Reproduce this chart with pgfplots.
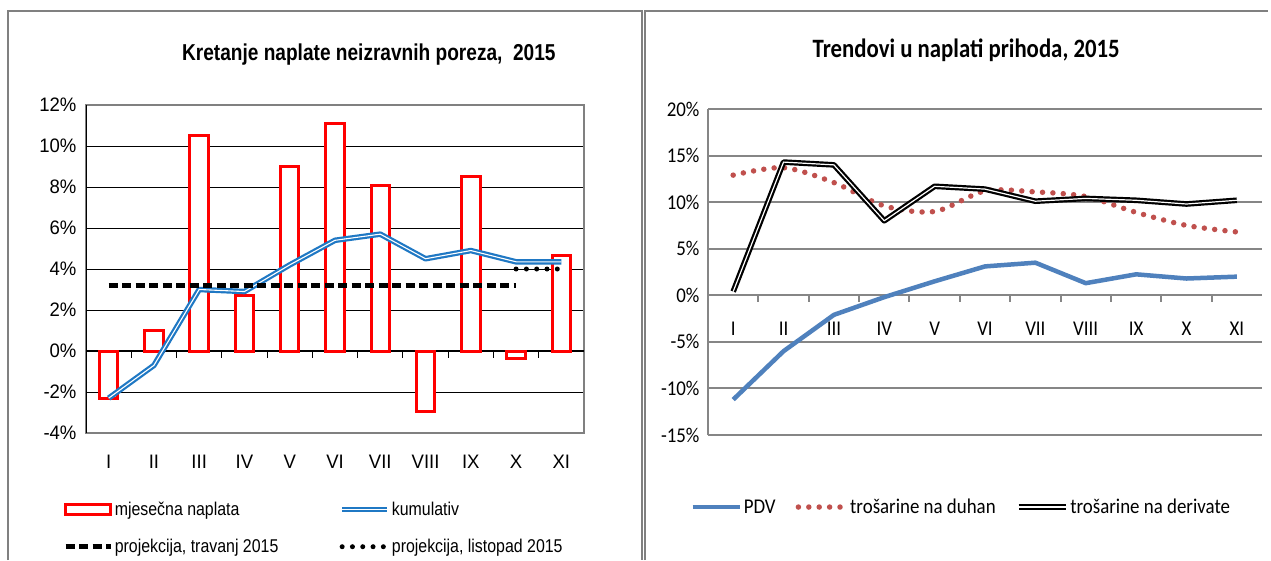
\documentclass[border=0pt]{standalone}
\usepackage{fontspec}
\setmainfont{Liberation Sans}
\newfontfamily\arialf[FakeStretch=0.95]{Liberation Sans}
\newfontfamily\arialleg[FakeStretch=0.86]{Liberation Sans}
\newfontfamily\arialtit[FakeStretch=0.83]{Liberation Sans}
\newfontfamily\calf[FakeStretch=0.9]{Carlito}
\newfontfamily\caltit[FakeStretch=0.86]{Carlito}
\usepackage{pgfplots}
\pgfplotsset{compat=1.18}
\definecolor{exred}{RGB}{255,0,0}
\definecolor{exblue}{RGB}{31,120,196}
\definecolor{pdvblue}{RGB}{79,129,189}
\definecolor{duhanred}{RGB}{192,80,77}
\definecolor{framegray}{RGB}{128,128,128}
\definecolor{gridgray}{RGB}{134,134,134}

\begin{document}
\begin{tikzpicture}
\useasboundingbox (0,0) rectangle (1271pt,560pt);
\fill[white] (0,0) rectangle (1271pt,560pt);

% left chart
\begin{axis}[
  scale only axis, width=498pt, height=328pt,
  at={(86pt,127pt)}, anchor=south west,
  xmin=0.5, xmax=11.5, ymin=-4, ymax=12,
  ytick={-4,-2,...,12},
  xtick={1,...,11},
  xticklabels={I,II,III,IV,V,VI,VII,VIII,IX,X,XI},
  major tick length=0pt,
  yticklabel={\pgfmathprintnumber{\tick}\%},
  /pgf/number format/assume math mode=true,
  ymajorgrids, grid style={black, line width=1pt},
  axis line style={framegray, line width=2pt},
  ticklabel style={font=\arialf\fontsize{19.5}{20}\selectfont},
  xticklabel style={yshift=-19pt},
  yticklabel style={xshift=-6pt},
  title={Kretanje naplate neizravnih poreza,\ \ 2015},
  title style={font=\arialtit\bfseries\fontsize{23}{24}\selectfont,
    at={(axis description cs:0.568,1.136)}, anchor=center},
  legend columns=2,
  legend cell align=left,
  legend style={draw=none, fill=none, inner sep=0pt,
    at={(axis description cs:-0.046,-0.203)}, anchor=north west,
    font=\arialleg\fontsize{18.5}{19}\selectfont, row sep=18.5pt,
    /tikz/every even column/.append style={column sep=59pt}},
  legend image code/.code={\draw[#1] (0pt,0pt) -- (45pt,0pt);},
]
\draw[black, line width=1.5pt] (axis cs:0.5,0) -- (axis cs:11.5,0);
\pgfplotsinvokeforeach{1.5,2.5,...,10.5}{\draw[black, line width=1pt] (axis cs:#1,0) -- ++(0pt,-7pt);}
\pgfplotsinvokeforeach{-4,-2,...,12}{\draw[black, line width=1pt] (axis cs:0.5,#1) -- ++(-5pt,0pt);}
\addplot[ybar, bar width=18.5pt, draw=exred, line width=3pt, fill=white,
  legend image code/.code={\draw[draw=exred, line width=3pt, fill=white] (0pt,-5pt) rectangle (45pt,5pt);}]
  coordinates {(1,-2.3) (2,1.0) (3,10.5) (4,2.7) (5,9.0) (6,11.1) (7,8.05) (8,-2.95) (9,8.5) (10,-0.35) (11,4.65)};
\addlegendentry{mjesečna naplata}
\addplot[exblue, line width=2.2pt, double=white, double distance=1.1pt, line join=round]
  coordinates {(1,-2.3) (2,-0.7) (3,3.0) (4,2.9) (5,4.2) (6,5.4) (7,5.7) (8,4.5) (9,4.9) (10,4.35) (11,4.35)};
\addlegendentry{kumulativ}
\addplot[black, line width=4.5pt, dash pattern=on 9pt off 4.5pt]
  coordinates {(1,3.2) (10,3.2)};
\addlegendentry{projekcija, travanj 2015}
\addplot[black, line width=5pt, line cap=round, dash pattern=on 0pt off 10.3pt]
  coordinates {(10,4.0) (11,4.0)};
\addlegendentry{projekcija, listopad 2015}
\draw[black, line width=1.5pt] (rel axis cs:0,0) -- (rel axis cs:0,1);
\end{axis}

% right chart
\begin{axis}[
  scale only axis, width=554pt, height=326pt,
  at={(708pt,125pt)}, anchor=south west,
  xmin=0.5, xmax=11.5, ymin=-15, ymax=20,
  ytick={-15,-10,...,20},
  xtick={1,...,11},
  xticklabels={I,II,III,IV,V,VI,VII,VIII,IX,X,XI},
  major tick length=0pt,
  axis x line*=middle, axis y line*=left,
  hide obscured x ticks=false, hide obscured y ticks=false,
  yticklabel={\pgfmathprintnumber{\tick}\%},
  /pgf/number format/assume math mode=true,
  ymajorgrids, grid style={gridgray, line width=2pt},
  axis line style={gridgray, line width=2pt},
  ticklabel style={font=\calf\fontsize{21}{21}\selectfont},
  xticklabel style={yshift=-23pt},
  yticklabel style={xshift=-5pt},
  title={Trendovi u naplati prihoda, 2015},
  title style={font=\caltit\bfseries\fontsize{26.5}{28}\selectfont,
    at={(axis description cs:0.466,1.162)}, anchor=center},
  legend columns=3,
  legend style={draw=none, fill=none, inner sep=0pt,
    at={(axis description cs:0.457,-0.221)}, anchor=center,
    font=\calf\fontsize{21}{21}\selectfont,
    /tikz/every even column/.append style={column sep=18pt}},
  legend image code/.code={\draw[#1] (0pt,0pt) -- (47pt,0pt);},
]
\pgfplotsinvokeforeach{1.5,2.5,...,10.5}{\draw[gridgray, line width=2pt] (axis cs:#1,0) -- ++(0pt,-7pt);}
\pgfplotsinvokeforeach{-15,-10,...,20}{\draw[gridgray, line width=2pt] (axis cs:0.5,#1) -- ++(-6pt,0pt);}
\addplot[pdvblue, line width=4.5pt, line join=round]
  coordinates {(1,-11.2) (2,-6.0) (3,-2.1) (4,-0.2) (5,1.5) (6,3.1) (7,3.5) (8,1.3) (9,2.25) (10,1.8) (11,2.0)};
\addlegendentry{PDV}
\addplot[duhanred, line width=5.5pt, line cap=round, dash pattern=on 0pt off 10.4pt, smooth, tension=0.5]
  coordinates {(1,12.9) (2,13.7) (3,12.1) (4,9.6) (5,9.0) (6,11.2) (7,11.1) (8,10.6) (9,8.9) (10,7.5) (11,6.8)};
\addlegendentry{trošarine na duhan}
\addplot[black, line width=2.2pt, double=white, double distance=1.2pt, line join=round]
  coordinates {(1,0.4) (2,14.3) (3,14.0) (4,8.0) (5,11.7) (6,11.4) (7,10.1) (8,10.4) (9,10.2) (10,9.8) (11,10.2)};
\addlegendentry{trošarine na derivate}
\end{axis}

\draw[framegray, line width=1.5pt] (8pt,0pt) -- (8pt,549pt) -- (642pt,549pt) -- (642pt,0pt);
\draw[framegray, line width=1.5pt] (645pt,0pt) -- (645pt,549pt) -- (1268pt,549pt);
\end{tikzpicture}
\end{document}
